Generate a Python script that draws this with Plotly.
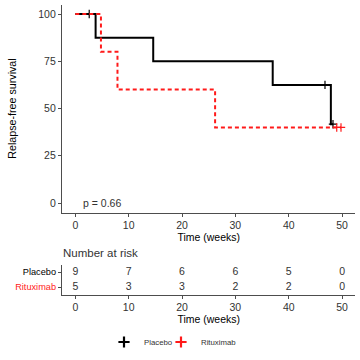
import plotly.graph_objects as go

# ---- data ----
placebo_time = [0, 3.8, 14.6, 37.0, 47.9, 48.3]
placebo_surv = [100, 87.5, 75, 62.5, 41.7, 41.7]
placebo_cens_time = [2.6, 46.8, 48.3]
placebo_cens_surv = [100, 62.5, 41.7]

ritux_time = [0, 4.8, 7.9, 26.2, 49.8]
ritux_surv = [100, 80, 60, 40, 40]
ritux_cens_time = [49.0, 49.8]
ritux_cens_surv = [40, 40]

risk_times = [0, 10, 20, 30, 40, 50]
risk_placebo = [9, 7, 6, 6, 5, 0]
risk_ritux = [5, 3, 3, 2, 2, 0]

x_ticks = [0, 10, 20, 30, 40, 50]
y_ticks = [0, 25, 50, 75, 100]

FONT = "Liberation Sans, Arial, sans-serif"
AX = "#4d4d4d"
TXT = "#333333"
RED = "#ff1a1a"

fig = go.Figure()

fig.add_trace(go.Scatter(x=placebo_time, y=placebo_surv, mode="lines",
                         line=dict(color="black", width=2, shape="hv"),
                         name="Placebo", showlegend=False, xaxis="x", yaxis="y"))
fig.add_trace(go.Scatter(x=placebo_cens_time, y=placebo_cens_surv, mode="markers",
                         marker=dict(symbol="cross-thin", size=6, line=dict(color="black", width=1.2)),
                         name="Placebo", showlegend=False, xaxis="x", yaxis="y"))
fig.add_trace(go.Scatter(x=ritux_time, y=ritux_surv, mode="lines",
                         line=dict(color=RED, width=2, shape="hv", dash="4px,3px"),
                         name="Rituximab", showlegend=False, xaxis="x", yaxis="y"))
fig.add_trace(go.Scatter(x=ritux_cens_time, y=ritux_cens_surv, mode="markers",
                         marker=dict(symbol="cross-thin", size=6, line=dict(color=RED, width=1.2)),
                         name="Rituximab", showlegend=False, xaxis="x", yaxis="y"))
# legend entries (two single-item legends to control spacing)
fig.add_trace(go.Scatter(x=[None], y=[None], mode="markers",
                         marker=dict(symbol="cross-thin", size=8, line=dict(color="black", width=2.2)),
                         name="Placebo", showlegend=True, legend="legend", xaxis="x", yaxis="y"))
fig.add_trace(go.Scatter(x=[None], y=[None], mode="markers",
                         marker=dict(symbol="cross-thin", size=8, line=dict(color=RED, width=2.2)),
                         name="Rituximab", showlegend=True, legend="legend2", xaxis="x", yaxis="y"))

# risk table
fig.add_trace(go.Scatter(x=risk_times, y=[2] * len(risk_times), mode="text",
                         text=[str(v) for v in risk_placebo],
                         textfont=dict(family=FONT, size=10.5, color=TXT),
                         showlegend=False, xaxis="x2", yaxis="y2"))
fig.add_trace(go.Scatter(x=risk_times, y=[1] * len(risk_times), mode="text",
                         text=[str(v) for v in risk_ritux],
                         textfont=dict(family=FONT, size=10.5, color=TXT),
                         showlegend=False, xaxis="x2", yaxis="y2"))

xdom = [62 / 360, 355.4 / 360]


def ax(**kw):
    d = dict(showline=True, linecolor=AX, linewidth=1.2, ticks="outside",
             tickcolor=AX, ticklen=3, showgrid=False, zeroline=False, automargin=False,
             tickfont=dict(family=FONT, size=10.5, color=TXT))
    d.update(kw)
    return d


leg_common = dict(orientation="h", y=1 - 342 / 360, yanchor="middle", xanchor="left",
                  font=dict(family=FONT, size=7.8, color=TXT), itemwidth=30,
                  bgcolor="rgba(0,0,0,0)")

fig.update_layout(
    width=360, height=360,
    margin=dict(l=0, r=0, t=0, b=0),
    paper_bgcolor="white", plot_bgcolor="white",
    font=dict(family=FONT, color="black"),
    xaxis=ax(domain=xdom, range=[-2.5, 52.5], tickvals=x_ticks, anchor="y",
             title=dict(text="Time (weeks)", font=dict(size=10.5, color="black"), standoff=0)),
    yaxis=ax(domain=[1 - 212.5 / 360, 1 - 4.55 / 360], range=[-5, 105], tickvals=y_ticks,
             anchor="x",
             title=dict(text="Relapse-free survival", font=dict(size=10.7, color="black"), standoff=19)),
    xaxis2=ax(domain=xdom, range=[-2.5, 52.5], tickvals=x_ticks, anchor="y2",
              title=dict(text="Time (weeks)", font=dict(size=10.5, color="black"), standoff=0)),
    yaxis2=ax(domain=[1 - 294.5 / 360, 1 - 264.5 / 360], range=[0.5, 2.5], tickvals=[1, 2],
              ticktext=["<span style='color:#ff1a1a'>Rituximab</span>", "Placebo"],
              tickfont=dict(family=FONT, size=9.2, color="black"),
              anchor="x2"),
    legend=dict(x=104 / 360, **leg_common),
    legend2=dict(x=161 / 360, **leg_common),
    annotations=[
        dict(text="p = 0.66", x=1.1, y=0, xref="x", yref="y", xanchor="left", yanchor="middle",
             showarrow=False, font=dict(family=FONT, size=10.5, color=TXT)),
        dict(text="Number at risk", x=61 / 360, y=1 - 253 / 360, xref="paper", yref="paper",
             xanchor="left", yanchor="middle", showarrow=False,
             font=dict(family=FONT, size=11.5, color=TXT)),
    ],
)

fig.write_html("out.html", config={"displayModeBar": False},
               post_script="document.body.style.margin='0px';")
